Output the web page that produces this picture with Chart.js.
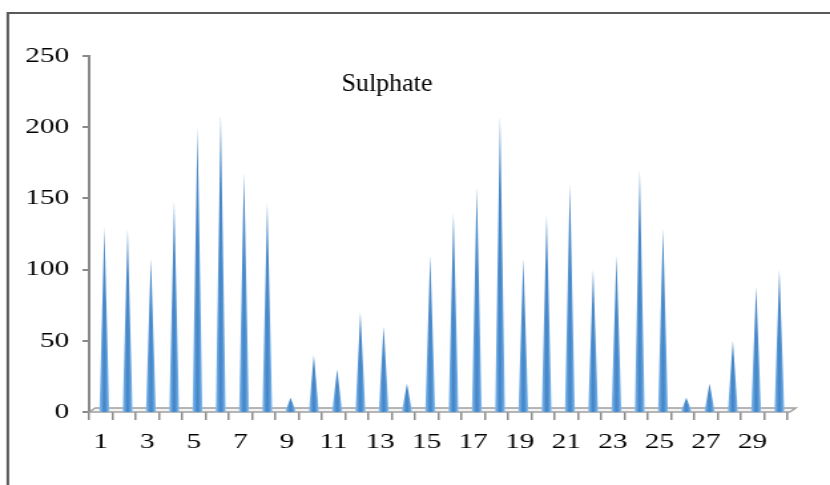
<!DOCTYPE html>
<html><head><meta charset="utf-8">
<script src="https://cdn.jsdelivr.net/npm/chart.js@4.4.1/dist/chart.umd.min.js"></script>
<style>
html,body{margin:0;padding:0;background:#fff;overflow:hidden;width:830px;height:485px;}
#wrap{position:absolute;left:0;top:0;width:624px;height:485px;transform:scaleX(1.330128);transform-origin:0 0;}
canvas{display:block;}
</style></head><body>
<div id="wrap"><canvas id="c" width="624" height="485"></canvas></div>
<script>
const categories = ['1','2','3','4','5','6','7','8','9','10','11','12','13','14','15','16','17','18','19','20','21','22','23','24','25','26','27','28','29','30'];
const sulphate = [130,128,108,148,200,209,168,147,10,40,30,70,60,20,110,140,158,208,108,138,160,100,110,170,129,10,20,50,88,100];
const yTicks = [0,50,100,150,200,250];
const titleText = 'Sulphate';

const STRETCH = 830/624;
const SERIF = "'Liberation Serif', 'Times New Roman', serif";

const framePlugin = {
  id:'frame',
  beforeDraw(chart){
    const ctx = chart.ctx;
    ctx.save();
    ctx.strokeStyle = '#595959';
    ctx.lineWidth = 2;
    ctx.beginPath();
    ctx.moveTo(5.9, 12); ctx.lineTo(5.9, 490);
    ctx.moveTo(5, 13); ctx.lineTo(630, 13);
    ctx.stroke();
    ctx.restore();
  }
};

const conePlugin = {
  id:'cones',
  beforeDatasetsDraw(chart){
    const ctx = chart.ctx, a = chart.chartArea;
    const y0 = chart.scales.y.getPixelForValue(0);
    const dx = 4.5, dy = 4;
    ctx.save();
    ctx.beginPath();
    ctx.moveTo(a.left, y0);
    ctx.lineTo(a.right + 1.8, y0);
    ctx.lineTo(a.right + 1.8 + dx, y0 - dy);
    ctx.lineTo(a.left + dx, y0 - dy);
    ctx.closePath();
    ctx.fillStyle = '#f3f3f3';
    ctx.fill();
    ctx.strokeStyle = '#a0a0a0';
    ctx.lineWidth = 1.4;
    ctx.stroke();
    ctx.restore();
  },
  afterDatasetsDraw(chart){
    const ctx = chart.ctx;
    const meta = chart.getDatasetMeta(0);
    const yb = chart.scales.y.getPixelForValue(0) - 1.2;
    ctx.save();
    meta.data.forEach(el => {
      const p = el.getProps(['x','y'], true);
      const cx = p.x + 2.7, hw = 3.7;
      const g = ctx.createLinearGradient(cx - hw, 0, cx + hw, 0);
      g.addColorStop(0, '#86bbec');
      g.addColorStop(0.25, '#5e9fdc');
      g.addColorStop(0.45, '#4584c5');
      g.addColorStop(0.6, '#4b8bcb');
      g.addColorStop(0.8, '#61a2df');
      g.addColorStop(1, '#8dc1f0');
      ctx.beginPath();
      ctx.moveTo(cx - hw, yb);
      ctx.lineTo(cx, p.y);
      ctx.lineTo(cx + hw, yb);
      ctx.ellipse(cx, yb, hw, 1.2, 0, 0, Math.PI);
      ctx.closePath();
      ctx.fillStyle = g;
      ctx.fill();
    });
    ctx.restore();
  }
};

const titlePlugin = {
  id:'titleText',
  afterDraw(chart){
    const ctx = chart.ctx;
    ctx.save();
    ctx.scale(1/STRETCH, 1);
    ctx.font = '26px ' + SERIF;
    ctx.fillStyle = '#000';
    ctx.textAlign = 'center';
    ctx.textBaseline = 'alphabetic';
    ctx.fillText(titleText, 387, 90.5);
    ctx.restore();
  }
};

new Chart(document.getElementById('c'), {
  type:'bar',
  data:{
    labels: categories,
    datasets:[{
      label: titleText,
      data: sulphate,
      backgroundColor:'rgba(0,0,0,0)',
      borderWidth:0
    }]
  },
  options:{
    responsive:false,
    animation:false,
    events:[],
    devicePixelRatio:1,
    layout:{padding:{top:56,right:32,bottom:0,left:0}},
    plugins:{legend:{display:false},tooltip:{enabled:false},title:{display:false}},
    scales:{
      x:{
        type:'category',
        offset:true,
        grid:{display:true,offset:true,drawOnChartArea:false,drawTicks:true,tickLength:8,color:'#8a8a8a',lineWidth:1.5},
        border:{display:false},
        ticks:{
          autoSkip:false,maxRotation:0,minRotation:0,padding:9,color:'#000',
          font:{family:SERIF,size:22},
          callback:function(v,i){ return i % 2 === 0 ? this.getLabelForValue(v) : ''; }
        },
        afterFit(scale){ scale.height = 73; }
      },
      y:{
        min:0,max:250,
        afterBuildTicks(scale){ scale.ticks = yTicks.map(v => ({value:v})); },
        grid:{display:true,drawOnChartArea:false,drawTicks:true,tickLength:5,color:'#8a8a8a',lineWidth:2},
        border:{display:true,color:'#8a8a8a',width:2},
        ticks:{padding:10,color:'#000',font:{family:SERIF,size:22}},
        afterFit(scale){ scale.width = 67; }
      }
    }
  },
  plugins:[framePlugin, conePlugin, titlePlugin]
});
</script>
</body></html>
